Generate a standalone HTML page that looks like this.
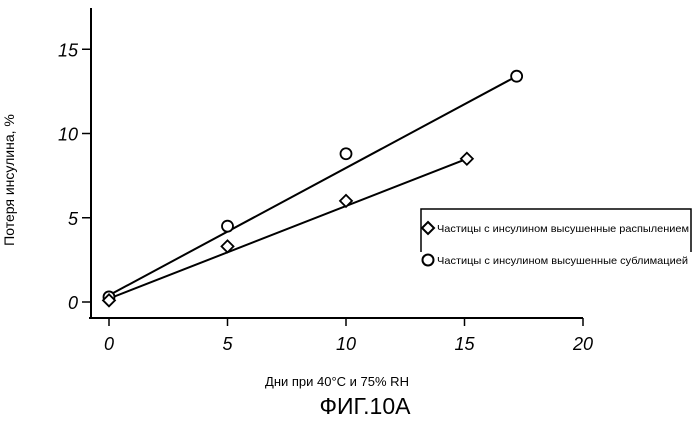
<!DOCTYPE html>
<html><head><meta charset="utf-8"><style>
body{margin:0;background:#fff;}
svg{display:block;font-family:"Liberation Sans",sans-serif;}
</style></head><body>
<svg width="699" height="444" viewBox="0 0 699 444">
<g id="axes"></g>
<g id="marks"></g>
<text x="14" y="180" transform="rotate(-90 14 180)" text-anchor="middle" font-size="14">Потеря инсулина, %</text>
<text x="337" y="386" text-anchor="middle" font-size="13">Дни при 40°C и 75% RH</text>
<text x="365" y="414" text-anchor="middle" font-size="23">ФИГ.10А</text>
<g>
<path d="M421,252 V209 H691 V252" fill="none" stroke="#000" stroke-width="1.5"/>
<g>
<polygon points="428,222 434,228 428,234 422,228" fill="#fff" stroke="#000" stroke-width="2"/>
<text x="437" y="232" font-size="10.5" textLength="252" lengthAdjust="spacingAndGlyphs">Частицы с инсулином  высушенные распылением</text>
</g>
<g>
<circle cx="428" cy="260" r="5.5" fill="#fff" stroke="#000" stroke-width="2"/>
<text x="437" y="264" font-size="10.5" textLength="251" lengthAdjust="spacingAndGlyphs">Частицы с инсулином  высушенные сублимацией</text>
</g>
</g>
</svg>
<script>
const xTicks=[0,5,10,15,20];
const yTicks=[0,5,10,15];
const circleX=[0,5,10,17.2];
const circleY=[0.3,4.5,8.8,13.4];
const diamondX=[0,5,10,15.1];
const diamondY=[0.1,3.3,6.0,8.5];
const circleFitX=[0,17.2];
const circleFitY=[0.4,13.4];
const diamondFitX=[0,15.1];
const diamondFitY=[0.2,8.5];
const xs=v=>109+v*23.7;
const ys=v=>302-v*16.85;
const NS='http://www.w3.org/2000/svg';
function mk(t,a,p){const e=document.createElementNS(NS,t);for(const k in a)e.setAttribute(k,a[k]);p.appendChild(e);return e;}
const ax=document.getElementById('axes');
let e=mk('line',{x1:91,y1:8,x2:91,y2:318,stroke:'#000','stroke-width':2},ax);


e=mk('line',{x1:89,y1:318,x2:xs(20),y2:318,stroke:'#000','stroke-width':2},ax);


xTicks.forEach(t=>{
 let l=mk('line',{x1:xs(t),y1:318,x2:xs(t),y2:326,stroke:'#000','stroke-width':1.5},ax);
 
 
 let tx=mk('text',{x:xs(t),y:350,'text-anchor':'middle','font-size':18,'font-style':'italic'},ax);
 tx.textContent=t;
 
 
});
yTicks.forEach(t=>{
 let l=mk('line',{x1:82,y1:ys(t),x2:91,y2:ys(t),stroke:'#000','stroke-width':1.5},ax);
 
 
 let tx=mk('text',{x:78,y:ys(t)+7,'text-anchor':'end','font-size':18,'font-style':'italic'},ax);
 tx.textContent=t;
 
 
});
const m=document.getElementById('marks');
e=mk('line',{x1:xs(circleFitX[0]),y1:ys(circleFitY[0]),x2:xs(circleFitX[1]),y2:ys(circleFitY[1]),stroke:'#000','stroke-width':2},m);


e=mk('line',{x1:xs(diamondFitX[0]),y1:ys(diamondFitY[0]),x2:xs(diamondFitX[1]),y2:ys(diamondFitY[1]),stroke:'#000','stroke-width':2},m);


circleX.forEach((x,i)=>{
 let c=mk('circle',{cx:xs(x),cy:ys(circleY[i]),r:5.5,fill:'#fff',stroke:'#000','stroke-width':1.8},m);
 
 
});
diamondX.forEach((x,i)=>{
 const cx=xs(x),cy=ys(diamondY[i]);
 let p=mk('polygon',{points:`${cx},${cy-6} ${cx+6},${cy} ${cx},${cy+6} ${cx-6},${cy}`,fill:'#fff',stroke:'#000','stroke-width':1.8},m);
 
 
});
</script>
</body></html>
